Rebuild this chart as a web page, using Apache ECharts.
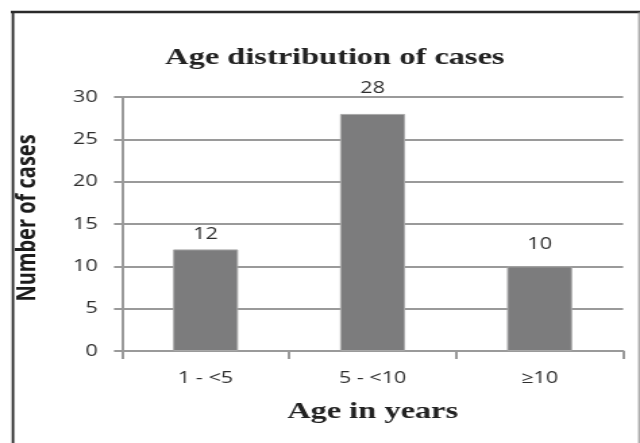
<!DOCTYPE html>
<html>
<head>
<meta charset="utf-8">
<script src="https://cdn.jsdelivr.net/npm/echarts@6/dist/echarts.min.js"></script>
<style>
  html, body { margin: 0; padding: 0; background: #fff; }
  #wrap { width: 640px; height: 443px; overflow: hidden; position: relative; background: #fff; }
  /* the figure is laid out in a narrower frame and widened horizontally */
  #chart { width: 474px; height: 443px; transform: scaleX(1.3502); transform-origin: 0 0; }
</style>
</head>
<body>
<div id="wrap"><div id="chart"></div></div>
<script>
// Age groups and number of cases in each
const ageGroups = ['1 - <5', '5 - <10', '\u226510'];
const caseCounts = [12, 28, 10];
const yTicks = { min: 0, max: 30, interval: 5 };

const chartTitle = 'Age distribution of cases';
const xTitle = 'Age in years';
const yTitle = 'Number of cases';

// distance of each value label above its bar
const labelGap = [7, 17, 14];

const chart = echarts.init(document.getElementById('chart'), null, { renderer: 'canvas' });

const gridColor = '#9a9a9a';
const labelFont = 'Open Sans';
const labelColor = '#2e2e2e';

chart.setOption({
  animation: false,
  backgroundColor: '#fff',
  title: {
    text: chartTitle,
    left: 248,
    top: 46,
    padding: 0,
    textAlign: 'center',
    textStyle: {
      fontFamily: 'Liberation Serif',
      fontWeight: 'bold',
      fontSize: 24,
      color: '#222'
    }
  },
  grid: { left: 90.4, right: 12.5, top: 97, bottom: 92 },
  xAxis: {
    type: 'category',
    data: ageGroups,
    name: xTitle,
    nameLocation: 'middle',
    nameGap: 49,
    nameTextStyle: {
      fontFamily: 'Liberation Serif',
      fontWeight: 'bold',
      fontSize: 24,
      color: '#222'
    },
    axisLine: { show: true, lineStyle: { color: gridColor, width: 2 } },
    axisTick: { show: true, length: 8, lineStyle: { color: gridColor, width: 2 } },
    axisLabel: { margin: 19, fontFamily: labelFont, fontSize: 16, color: labelColor }
  },
  yAxis: {
    type: 'value',
    min: yTicks.min,
    max: yTicks.max,
    interval: yTicks.interval,
    name: yTitle,
    nameLocation: 'middle',
    nameRotate: 90,
    nameGap: 60,
    nameTextStyle: {
      fontFamily: 'Open Sans',
      fontWeight: 'bold',
      fontSize: 20,
      color: '#1c1c1c',
      padding: [0, 0, 0, 12]
    },
    axisLine: { show: true, lineStyle: { color: gridColor, width: 2 } },
    axisTick: { show: true, length: 6, lineStyle: { color: gridColor, width: 2 } },
    axisLabel: { margin: 18, fontFamily: labelFont, fontSize: 16, color: labelColor },
    splitLine: { show: true, lineStyle: { color: gridColor, width: 2 } }
  },
  series: [{
    type: 'bar',
    barWidth: '39%',
    data: caseCounts.map((v, i) => ({ value: v, label: { distance: labelGap[i] } })),
    itemStyle: { color: '#7c7c7d', borderColor: '#a9a9a9', borderWidth: 1 },
    label: {
      show: true,
      position: 'top',
      fontFamily: labelFont,
      fontSize: 16,
      color: labelColor
    }
  }],
  graphic: [
    // frame around the figure
    { type: 'line', shape: { x1: 8, y1: 12, x2: 474, y2: 12 }, style: { stroke: '#2a2a2a', lineWidth: 2.5 } },
    { type: 'line', shape: { x1: 9.6, y1: 11, x2: 9.6, y2: 443 }, style: { stroke: '#2a2a2a', lineWidth: 1.8 } },
    { type: 'line', shape: { x1: 473.2, y1: 12, x2: 473.2, y2: 443 }, style: { stroke: '#8a8a8a', lineWidth: 1 } }
  ]
});
</script>
</body>
</html>
